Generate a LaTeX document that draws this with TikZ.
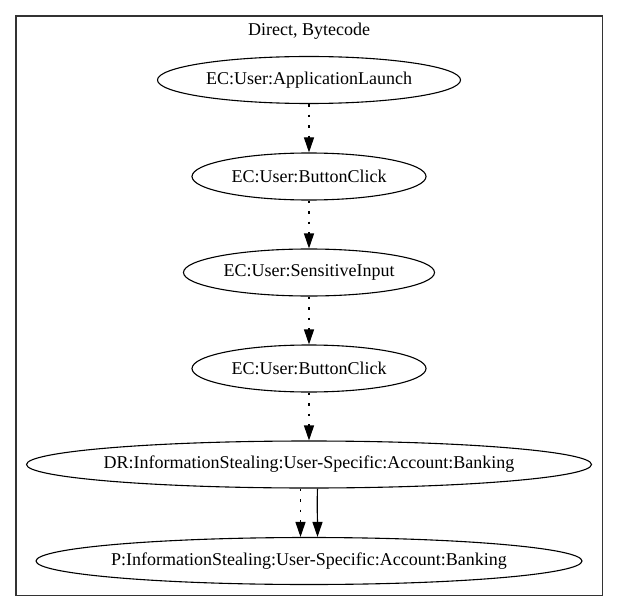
\documentclass[tikz,border=0pt]{standalone}
\usepackage{fontspec}
\setmainfont{Liberation Serif}
\usetikzlibrary{shapes.geometric,arrows.meta}
\tikzset{
  label font/.style={font=\fontsize{18bp}{21bp}\selectfont},
  event/.style={draw,ellipse,line width=1.1bp,inner sep=0pt,minimum height=47bp,label font,
    execute at begin node={\hbox to 0pt\bgroup\hss},execute at end node={\hss\egroup}},
  flow/.style={line width=1.1bp,-{Triangle[length=15bp,width=10bp]},dash pattern=on 2.5bp off 8bp},
  call/.style={line width=1.1bp,-{Triangle[length=15bp,width=10bp]}}
}
\begin{document}
\begin{tikzpicture}[x=1bp,y=-1bp]
  \useasboundingbox (0,0) rectangle (619,612);
  \draw[line width=1.4bp,black!80] (16,16) rectangle (602.5,595.5);
  \node[label font] (title) at (309,31) {Direct, Bytecode};
  \node[event,minimum width=303bp] (launch) at (309,80) {EC:User:ApplicationLaunch};
  \node[event,minimum width=234bp] (clickA) at (309,176.5) {EC:User:ButtonClick};
  \node[event,minimum width=251bp] (input) at (309,272.5) {EC:User:SensitiveInput};
  \node[event,minimum width=234bp] (clickB) at (309,368.5) {EC:User:ButtonClick};
  \node[event,minimum width=565bp] (steal) at (309,464.5) {DR:InformationStealing:User-Specific:Account:Banking};
  \node[event,minimum width=546bp] (bank) at (309,561) {P:InformationStealing:User-Specific:Account:Banking};
  \foreach \a/\b in {launch/clickA,clickA/input,input/clickB,clickB/steal}
    \draw[flow] (\a) -- (\b);
  \draw[flow] ([xshift=-8.5bp]steal.south) -- ([xshift=-8.5bp]bank.north);
  \draw[call] ([xshift=8.5bp]steal.south) to[out=-92,in=90] ([xshift=8.5bp]bank.north);
\end{tikzpicture}
\end{document}
